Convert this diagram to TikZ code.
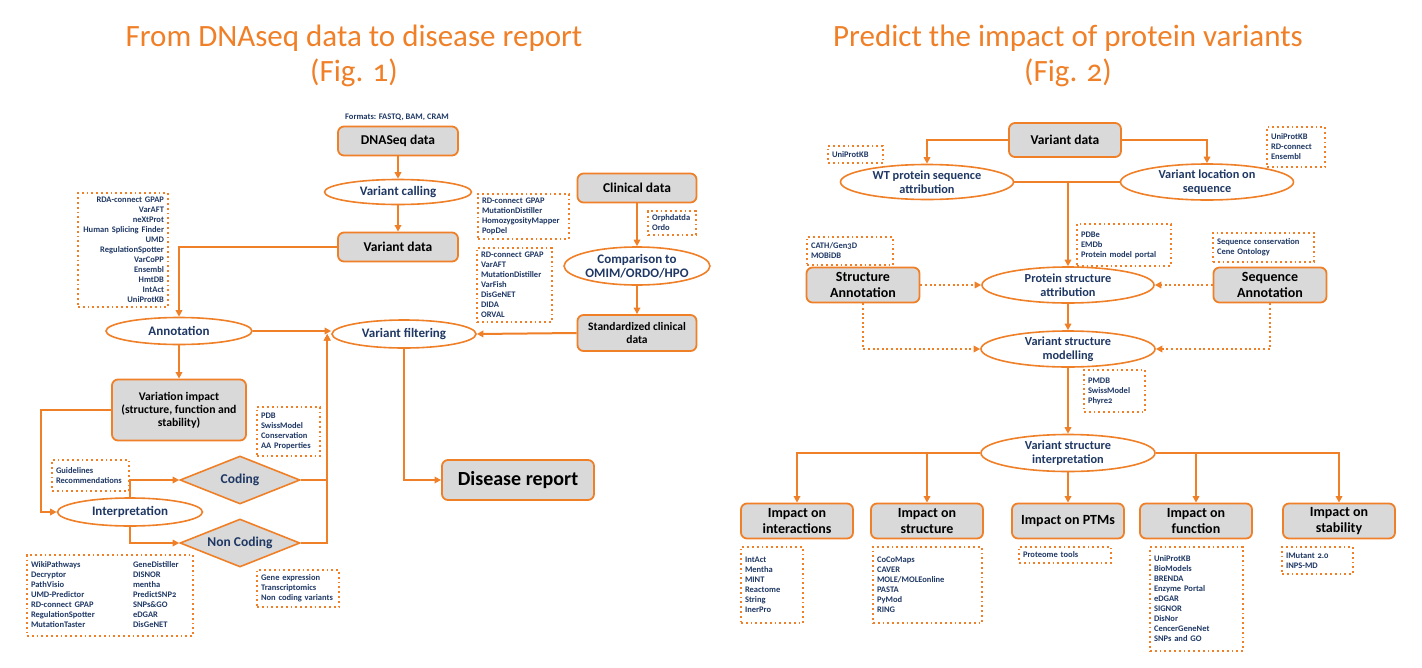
\documentclass[tikz,border=0pt]{standalone}
\usepackage{fontspec}
\setmainfont{Carlito}[Numbers=OldStyle]
\usetikzlibrary{arrows.meta, shapes.geometric, positioning}
\definecolor{orng}  {RGB}{240,128, 40}
\definecolor{nblue} {RGB}{ 31, 56,100}
\definecolor{lgray} {RGB}{217,217,217}
\tikzset{
  % Gray data box
  GB/.style={rectangle,rounded corners=6pt,draw=orng,fill=lgray,
             minimum width=#1,minimum height=29pt,align=center,
             font=\fontsize{13.5}{15}\selectfont\bfseries,inner sep=2pt,
             line width=1.8pt},
  GB/.default=120pt,
  % Step ellipse
  EL/.style={ellipse,draw=orng,fill=white,minimum width=#1,
             minimum height=28pt,align=center,text=nblue,inner sep=0pt,
             font=\fontsize{13}{14}\selectfont\bfseries,line width=1.6pt},
  EL/.default=145pt,
  % Decision diamond
  DM/.style={diamond,draw=orng,fill=lgray,text=nblue,aspect=2.5,
             minimum width=120pt,minimum height=48pt,inner sep=0pt,
             font=\fontsize{13.5}{15}\selectfont\bfseries,line width=1.6pt},
  % Dotted tool list
  LB/.style={rectangle,draw=orng,dash pattern=on 1.8pt off 3pt,
             line width=1.8pt,text width=#1,align=left,text=nblue,
             inner sep=4pt,font=\fontsize{8.5}{10}\selectfont\bfseries},
  % Title
  TT/.style={text=orng,align=center,font=\fontsize{31}{35}\selectfont},
  % Arrows
  Arr/.style ={-{Triangle[length=6.5pt,width=6.5pt]},line width=2pt,draw=orng},
  DArr/.style={Arr,dash pattern=on 2pt off 2.6pt},
  Ln/.style  ={line width=2pt,draw=orng},
}
\begin{document}
\begin{tikzpicture}[x=1pt,y=-1pt]
        \useasboundingbox (0,0) rectangle (1422,667);
        % Titles
        \node[TT] at (354,56) (t1)
              {From DNAseq data to disease report\\(Fig. 1)};
        \node[TT] at (1068,56) (t2)
              {Predict the impact of protein variants\\(Fig. 2)};
        % ---------------- Fig. 1 ----------------
        \node[text=nblue,font=\fontsize{8.5}{9}\selectfont\bfseries]
              at (397,117) (fmt) {Formats: FASTQ, BAM, CRAM};
        \node[GB] at (398,141) (dna) {DNASeq data};
        \node[EL=147pt,minimum height=25pt] at (398,192) (vc)
              {Variant calling};
        \node[GB] at (398,247) (vd) {Variant data};
        \draw[Arr] (dna) -- (vc);
        \draw[Arr] (vc) -- (vd);
        % Clinical branch
        \node[GB=119pt] at (637,188) (clin) {Clinical data};
        \node[EL,minimum height=38pt] at (637,266) (comp)
              {Comparison to\\OMIM/ORDO/HPO};
        \node[GB=119pt,minimum height=36pt,
              font=\fontsize{11.5}{13.5}\selectfont\bfseries]
              at (637,333) (std) {Standardized clinical\\data};
        \draw[Arr] (clin) -- (comp);
        \draw[Arr] (comp) -- (std);
        % Filtering and annotation
        \node[EL=144pt] at (404,334) (vf) {Variant filtering};
        \node[EL=146pt,minimum height=27pt] at (179,331) (ann) {Annotation};
        \draw[Arr] (std.west) -- (vf.east);
        \draw[Arr] (vd.west) -| (ann.north);
        \draw[Arr] (ann.east) -- (ann.east -| vf.west);
        \node[GB=134pt,minimum height=61pt,
              font=\fontsize{11.7}{13}\selectfont\bfseries]
              at (179,410) (vi)
              {Variation impact\\(structure, function and\\stability)};
        \draw[Arr] (ann) -- (vi);
        % Interpretation and coding split
        \node[EL] at (130,512) (intp) {Interpretation};
        \node[DM] at (240,480) (cod) {Coding};
        \node[DM] at (240,543) (ncod) {Non Coding};
        \draw[Arr] (vi.west) -| ([xshift=-16pt]intp.west) -- (intp.west);
        \draw[Arr] (intp.north) |- (cod.west);
        \draw[Arr] (intp.south) |- (ncod.west);
        \foreach \c in {cod,ncod}
          \draw[Arr] (\c.east) -| ([xshift=-4pt]vf.west);
        % Report
        \node[GB=152pt,minimum height=40pt,
              font=\fontsize{20}{21}\selectfont\bfseries]
              at (518,480) (dis) {Disease report};
        \draw[Arr] (vf.south) |- (dis.west);
        % Tool lists
        \node[LB=82pt,align=right,minimum height=112pt] at (123,250) (lb1)
              {RDA-connect GPAP\\VarAFT\\neXtProt\\Human Splicing Finder\\UMD\\
               RegulationSpotter\\VarCoPP\\Ensembl\\HmtDB\\IntAct\\UniProtKB};
        \node[LB=83pt,minimum height=45pt] at (523.5,216.5) (lb2)
              {RD-connect GPAP\\MutationDistiller\\HomozygosityMapper\\PopDel};
        \node[LB=40pt,minimum height=24pt] at (672,223) (lb3)
              {Orphdatda\\Ordo};
        \node[LB=67pt,minimum height=74pt] at (514.5,285) (lb4)
              {RD-connect GPAP\\VarAFT\\MutationDistiller\\VarFish\\DisGeNET\\
               DIDA\\ORVAL};
        \node[LB=55pt,minimum height=49pt] at (288.5,431.5) (lb5)
              {PDB\\SwissModel\\Conservation\\AA Properties};
        \node[LB=69pt,minimum height=31pt] at (90.5,475.5) (lb6)
              {Guidelines\\Recommendations};
        \node[LB=158pt,minimum height=81pt] at (110,595.5) (lb7)
              {\begin{tabular}{@{}p{102pt}@{}l@{}}
               WikiPathways     & GeneDistiller\\
               Decryptor        & DISNOR\\
               PathVisio        & mentha\\
               UMD-Predictor    & PredictSNP2\\
               RD-connect GPAP  & SNPs\&GO\\
               RegulationSpotter& eDGAR\\
               MutationTaster   & DisGeNET
               \end{tabular}};
        \node[LB=74pt,minimum height=37pt] at (298,588.5) (lb8)
              {Gene expression\\Transcriptomics\\Non coding variants};
        % ---------------- Fig. 2 ----------------
        \node[GB=112pt,minimum height=34pt] at (1065,140) (vd2) {Variant data};
        \node[EL=173pt,minimum height=35pt,
              font=\fontsize{12.3}{14}\selectfont\bfseries]
              at (927,182) (wt) {WT protein sequence\\attribution};
        \node[EL=173pt,minimum height=36pt,
              font=\fontsize{12.3}{14}\selectfont\bfseries]
              at (1207,182) (vl) {Variant location on\\sequence};
        \draw[Arr] (vd2.west) -| (wt.north);
        \draw[Arr] (vd2.east) -| (vl.north);
        \node[EL=172pt,minimum height=36pt,
              font=\fontsize{12.3}{14}\selectfont\bfseries]
              at (1068,285) (psa) {Protein structure\\attribution};
        \draw[Ln] (wt.east) -- (vl.west);
        \draw[Arr] (wt.east -| psa.north) -- (psa.north);
        % Annotation boxes feed the structure steps
        \node[GB=113pt,minimum height=35pt,
              font=\fontsize{14}{16}\selectfont\bfseries]
              at (863,285) (sa) {Structure\\Annotation};
        \node[GB=113pt,minimum height=35pt,
              font=\fontsize{14}{16}\selectfont\bfseries]
              at (1270,285) (seqa) {Sequence\\Annotation};
        \node[EL=174pt,minimum height=36pt,
              font=\fontsize{12.3}{14}\selectfont\bfseries]
              at (1068,349) (vsm) {Variant structure\\modelling};
        \node[EL=174pt,minimum height=37pt,
              font=\fontsize{12.3}{14}\selectfont\bfseries]
              at (1068,453) (vsi) {Variant structure\\interpretation};
        \draw[DArr] (sa.east) -- (psa.west);
        \draw[DArr] (seqa.west) -- (psa.east);
        \draw[Arr] (psa) -- (vsm);
        \draw[DArr] (sa.south) |- (vsm.west);
        \draw[DArr] (seqa.south) |- (vsm.east);
        \draw[Arr] (vsm) -- (vsi);
        % Five impact boxes
        \node[GB=112pt,minimum height=35pt,
              font=\fontsize{14}{16}\selectfont\bfseries]
              at (797,521) (i1) {Impact on\\interactions};
        \node[GB=112pt,minimum height=35pt,
              font=\fontsize{14}{16}\selectfont\bfseries]
              at (927,521) (i2) {Impact on\\structure};
        \node[GB=112pt,minimum height=35pt,
              font=\fontsize{14}{16}\selectfont\bfseries]
              at (1068,521) (i3) {Impact on PTMs};
        \node[GB=112pt,minimum height=35pt,
              font=\fontsize{14}{16}\selectfont\bfseries]
              at (1196,521) (i4) {Impact on\\function};
        \node[GB=112pt,minimum height=35pt,
              font=\fontsize{14}{16}\selectfont\bfseries]
              at (1339,521) (i5) {Impact on\\stability};
        \foreach \c in {i1,i2}
          \draw[Arr] (vsi.west) -| (\c.north);
        \draw[Arr] (vsi) -- (i3);
        \foreach \c in {i4,i5}
          \draw[Arr] (vsi.east) -| (\c.north);
        % Tool lists
        \node[LB=47pt,minimum height=17pt] at (855.5,154.5) (lc1) {UniProtKB};
        \node[LB=50pt,minimum height=40pt] at (1296,147) (lc2)
              {UniProtKB\\RD-connect\\Ensembl};
        \node[LB=86pt,minimum height=42pt] at (1124,245) (lc3)
              {PDBe\\EMDb\\Protein model portal};
        \node[LB=78pt,minimum height=28pt] at (850,251) (lc4)
              {CATH/Gen3D\\MOBiDB};
        \node[LB=93pt,minimum height=29pt] at (1263.5,247.5) (lc5)
              {Sequence conservation\\Cene Ontology};
        \node[LB=53pt,minimum height=42pt] at (1114.5,391) (lc6)
              {PMDB\\SwissModel\\Phyre2};
        \node[LB=54pt,minimum height=76pt] at (772,585) (lc7)
              {IntAct\\Mentha\\MINT\\Reactome\\String\\InerPro};
        \node[LB=101pt,minimum height=76pt] at (927.5,585) (lc8)
              {CoCoMaps\\CAVER\\MOLE/MOLEonline\\PASTA\\PyMod\\RING};
        \node[LB=84pt,minimum height=16pt] at (1065,555) (lc9)
              {Proteome tools};
        \node[LB=85pt,minimum height=104pt] at (1196.5,599) (lc10)
              {UniProtKB\\BioModels\\BRENDA\\Enzyme Portal\\eDGAR\\SIGNOR\\
               DisNor\\CencerGeneNet\\SNPs and GO};
        \node[LB=63pt,minimum height=27pt] at (1317.5,560.5) (lc11)
              {IMutant 2.0\\INPS-MD};
      \end{tikzpicture}
\end{document}
